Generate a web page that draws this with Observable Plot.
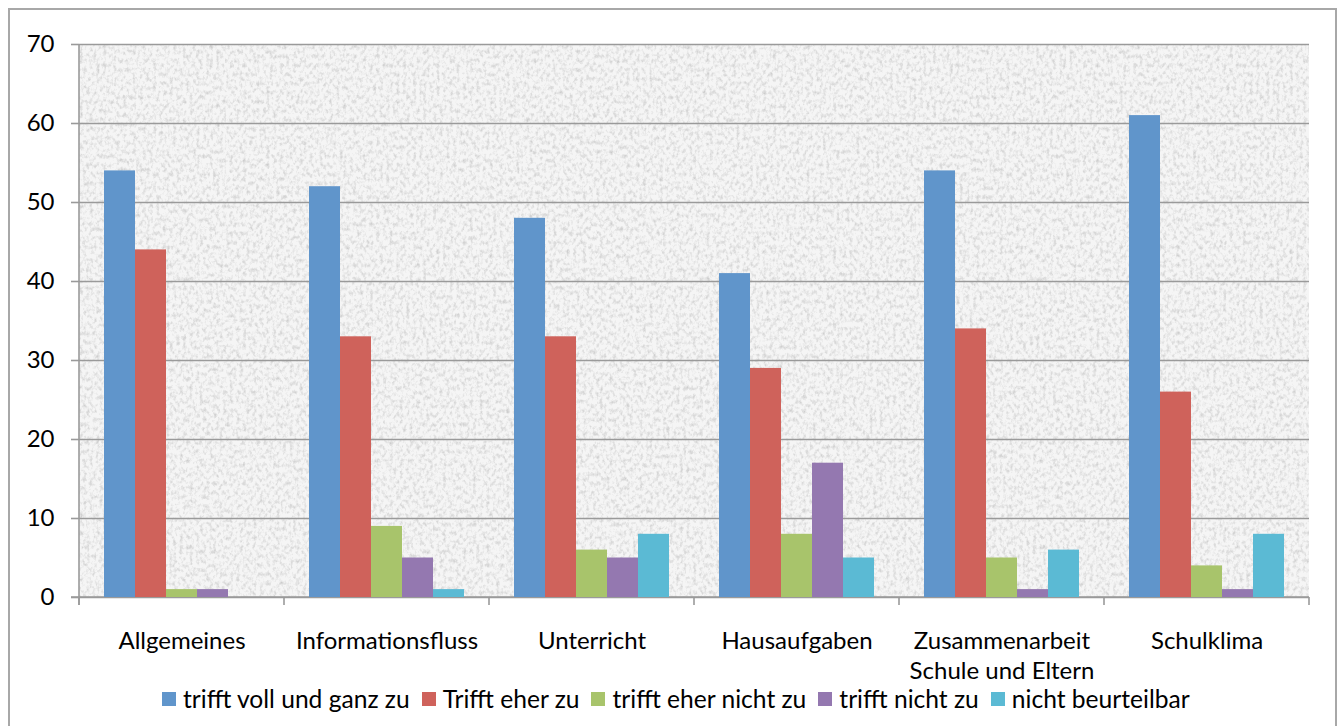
<!DOCTYPE html>
<html><head><meta charset="utf-8">
<script src="https://cdn.jsdelivr.net/npm/d3@7"></script>
<script src="https://cdn.jsdelivr.net/npm/@observablehq/plot@0.6"></script>
<style>
body{margin:0;background:#fff;font-family:Lato, "Open Sans", sans-serif;overflow:hidden;}
#border{position:absolute;left:8px;top:8px;width:1329px;height:740px;border:2px solid #a8a8a8;box-sizing:border-box;}
#chart{position:absolute;left:0;top:0;}
#legend{position:absolute;left:162px;top:684px;display:flex;align-items:center;font-size:24.6px;color:#000;white-space:nowrap;}
#legend .item{display:flex;align-items:center;margin-right:12px;}
#legend .sw{width:14px;height:14px;margin-right:7px;}
</style>
</head><body>
<div id="border"></div>
<div id="chart"></div>
<div id="legend"></div>
<script>
const categories = ["Allgemeines","Informationsfluss","Unterricht","Hausaufgaben","Zusammenarbeit\nSchule und Eltern","Schulklima"];
const series = ["trifft voll und ganz zu","Trifft eher zu","trifft eher nicht zu","trifft nicht zu","nicht beurteilbar"];
const colors = ["#6095cb","#cf625b","#a8c46b","#9478b0","#5bbad4"];
const vollUndGanz = [54,52,48,41,54,61];
const eherZu      = [44,33,33,29,34,26];
const eherNicht   = [1,9,6,8,5,4];
const nichtZu     = [1,5,5,17,1,1];
const nichtBeurt  = [0,1,8,5,6,8];
const yTicks = [0,10,20,30,40,50,60,70];

const seriesValues = [vollUndGanz, eherZu, eherNicht, nichtZu, nichtBeurt];
const data = [];
categories.forEach((c, i) => series.forEach((s, j) => data.push({cat: c, series: s, value: seriesValues[j][i]})));

const gridColor = "#9a9a9a";

const plot = Plot.plot({
  width: 1341,
  height: 726,
  marginLeft: 77,
  marginRight: 30,
  marginTop: 44,
  marginBottom: 129,
  style: {fontFamily: "Lato, 'Open Sans', sans-serif", fontSize: "24px", background: "transparent", color: "#000", overflow: "visible"},
  fx: {domain: categories, padding: 0, label: null},
  x: {domain: series, paddingInner: 0, paddingOuter: 0.78, axis: null},
  y: {domain: [0, 70], label: null},
  color: {domain: series, range: colors},
  marks: [
    Plot.gridY(yTicks, {stroke: gridColor, strokeOpacity: 1, strokeWidth: 1.6}),
    Plot.barY(data, {fx: "cat", x: "series", y: "value", fill: "series", inset: 0}),
    Plot.axisY(yTicks, {tickSize: 8, tickPadding: 17, stroke: gridColor, strokeWidth: 1.6, fontSize: 24, label: null}),
    Plot.axisFx({anchor: "bottom", tickSize: 0, tickPadding: 30, fontSize: 24, lineHeight: 1.25, label: null})
  ]
});

// background texture, axis lines and category boundary ticks, placed with the plot's own scales
const svg = d3.select(plot);
const fxS = plot.scale("fx"), yS = plot.scale("y");
const edges = categories.map(c => fxS.apply(c));
edges.push(fxS.apply(categories[categories.length - 1]) + fxS.bandwidth);
const y0 = yS.apply(0), yTop = yS.apply(70);

const defs = svg.insert("defs", ":first-child");
const f = defs.append("filter").attr("id", "grain").attr("x", 0).attr("y", 0).attr("width", 1).attr("height", 1)
  .attr("filterUnits", "objectBoundingBox").attr("color-interpolation-filters", "sRGB");
f.append("feTurbulence").attr("type", "fractalNoise").attr("baseFrequency", "0.3 0.22").attr("numOctaves", 3).attr("seed", 11).attr("result", "n");
f.append("feColorMatrix").attr("in", "n").attr("type", "matrix")
  .attr("values", "0 0 0 0 0.78  0 0 0 0 0.78  0 0 0 0 0.78  1.8 0 0 0 -0.8").attr("result", "g");
f.append("feFlood").attr("flood-color", "#f5f5f5").attr("result", "bg");
f.append("feComposite").attr("in", "g").attr("in2", "bg").attr("operator", "over");

svg.insert("rect", "defs + *")
  .attr("x", edges[0]).attr("y", yTop)
  .attr("width", edges[edges.length - 1] - edges[0]).attr("height", y0 - yTop)
  .attr("fill", "#efefef").attr("filter", "url(#grain)");

const g = svg.append("g").attr("stroke", gridColor).attr("stroke-width", 1.6);
g.append("line").attr("x1", edges[0]).attr("x2", edges[0]).attr("y1", yTop).attr("y2", y0 + 8);
edges.forEach(e => g.append("line").attr("x1", e).attr("x2", e).attr("y1", y0).attr("y2", y0 + 8));
g.append("line").attr("x1", edges[0] - 8).attr("x2", edges[edges.length - 1]).attr("y1", y0).attr("y2", y0);
svg.selectAll("[aria-label=bar]").raise();

document.getElementById("chart").appendChild(plot);

const legend = d3.select("#legend");
series.forEach((s, i) => {
  const it = legend.append("div").attr("class", "item");
  it.append("div").attr("class", "sw").style("background", colors[i]);
  it.append("span").text(s);
});
</script>
</body></html>
